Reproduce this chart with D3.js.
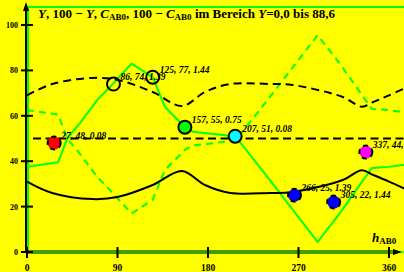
<!DOCTYPE html>
<html>
<head>
<meta charset="utf-8">
<script src="https://cdn.jsdelivr.net/npm/d3@7"></script>
<style>
  html, body { margin: 0; padding: 0; background: #ffff00; }
  svg { display: block; }
  text { font-family: "Liberation Serif", "Times New Roman", serif; font-weight: bold; }
</style>
</head>
<body>
<script>
// chart values
const hueY = [0, 31, 40, 53, 70, 81, 104, 125, 137, 157, 165, 207, 234, 289, 311, 343, 360, 391];
const lumY = [37.5, 39.5, 50, 57, 67, 72, 83, 77, 64, 55, 53, 51, 36, 4.5, 17, 37, 37.5, 39.5];
const lumYInv = [62.5, 60.5, 50, 43, 33, 28, 17, 23, 36, 45, 47, 49, 64, 95.5, 83, 63, 62.5, 60.5];

const hueC = [0, 25, 65, 90, 125, 154, 177, 202, 242, 264, 314, 333, 344, 360, 385];
const chroma = [31, 26, 23.3, 24.2, 29.5, 35.7, 29.5, 26, 26, 26.4, 31.7, 36, 34, 31, 26];
const chromaInv = [69, 74, 76.7, 75.8, 70.5, 64.3, 70.5, 74, 74, 73.6, 68.3, 64, 66, 69, 74];

const refLevel = 50;

const pointHue = [27, 86, 125, 157, 207, 266, 305, 337];
const pointVal = [48, 74, 77, 55, 51, 25, 22, 44];
const pointC = ['0.08', '1.39', '1.44', '0.75', '0.08', '1.39', '1.44', '0.75'];
const pointKind = ['red', 'open', 'open', 'green', 'cyan', 'blue', 'blue', 'magenta'];

const xTicks = [0, 90, 180, 270, 360];
const yTicks = [0, 20, 40, 60, 80, 100];

const width = 404, height = 272;
const green = '#00ff00';

const svg = d3.select('body').append('svg')
  .attr('width', width).attr('height', height);

svg.append('rect').attr('width', width).attr('height', height).attr('fill', '#ffff00');

const x = d3.scaleLinear().domain([0, 360]).range([27, 389]);
const y = d3.scaleLinear().domain([0, 100]).range([252, 25]);

const kindColor = d3.scaleOrdinal()
  .domain(['red', 'open', 'green', 'cyan', 'blue', 'magenta'])
  .range(['#ff0000', 'none', '#00ff00', '#00ffff', '#0000ff', '#ff00ff']);

// green frame
svg.append('path')
  .attr('d', `M${width},7 H28 V252`)
  .attr('fill', 'none').attr('stroke', green).attr('stroke-width', 2);

// axes
svg.append('line').attr('x1', 26).attr('x2', 26).attr('y1', 253).attr('y2', 8)
  .attr('stroke', '#000').attr('stroke-width', 2);
svg.append('path').attr('d', 'M26,2 L23,11 L29,11 Z').attr('fill', '#000');

svg.append('line').attr('x1', 26).attr('x2', 396).attr('y1', y(0)).attr('y2', y(0))
  .attr('stroke', '#000').attr('stroke-width', 3);
svg.append('line').attr('x1', 26).attr('x2', width).attr('y1', y(0)).attr('y2', y(0))
  .attr('stroke', green).attr('stroke-width', 1.5);
svg.append('path').attr('d', `M402,${y(0)} L393,${y(0) - 3} L393,${y(0) + 3} Z`).attr('fill', '#000');

svg.selectAll('.xt').data(xTicks).enter().append('line')
  .attr('x1', d => x(d)).attr('x2', d => x(d))
  .attr('y1', 247).attr('y2', 258)
  .attr('stroke', '#000').attr('stroke-width', 2);
svg.selectAll('.xl').data(xTicks).enter().append('text')
  .attr('x', d => x(d)).attr('y', 271)
  .attr('text-anchor', 'middle').style('font-size', '9.5px')
  .text(d => d);

svg.selectAll('.yt').data(yTicks).enter().append('line')
  .attr('x1', 21).attr('x2', 33)
  .attr('y1', d => y(d)).attr('y2', d => y(d))
  .attr('stroke', '#000').attr('stroke-width', 2);
svg.selectAll('.yl').data(yTicks).enter().append('text')
  .attr('x', 18).attr('y', d => y(d) + 3)
  .attr('text-anchor', 'end').style('font-size', '8px')
  .text(d => d);

// curves
svg.append('clipPath').attr('id', 'plot')
  .append('rect').attr('x', 27).attr('y', 0).attr('width', width - 27).attr('height', 252);

const g = svg.append('g').attr('clip-path', 'url(#plot)');

const linY = d3.line().x((d, i) => x(hueY[i])).y(d => y(d));
const smoothC = d3.line().x((d, i) => x(hueC[i])).y(d => y(d)).curve(d3.curveCatmullRom);

g.append('path').attr('d', linY(lumYInv))
  .attr('fill', 'none').attr('stroke', green).attr('stroke-width', 2)
  .attr('stroke-dasharray', '7,5');
g.append('path').attr('d', linY(lumY))
  .attr('fill', 'none').attr('stroke', green).attr('stroke-width', 2);

g.append('path').attr('d', smoothC(chromaInv))
  .attr('fill', 'none').attr('stroke', '#000').attr('stroke-width', 2)
  .attr('stroke-dasharray', '8,5');
g.append('path').attr('d', smoothC(chroma))
  .attr('fill', 'none').attr('stroke', '#000').attr('stroke-width', 2);

g.append('line')
  .attr('x1', x(6)).attr('x2', width)
  .attr('y1', y(refLevel)).attr('y2', y(refLevel))
  .attr('stroke', '#000').attr('stroke-width', 2)
  .attr('stroke-dasharray', '8,4.5');

// sample points
const pts = pointHue.map((h, i) => ({ h, v: pointVal[i], c: pointC[i], kind: pointKind[i] }));
const solidOutline = k => k === 'open' || k === 'green' || k === 'cyan';

svg.selectAll('.pt').data(pts).enter().append('circle')
  .attr('cx', d => x(d.h)).attr('cy', d => y(d.v)).attr('r', 6.5)
  .attr('fill', d => kindColor(d.kind))
  .attr('stroke', '#000').attr('stroke-width', 2)
  .attr('stroke-dasharray', d => solidOutline(d.kind) ? null : '5,4');

svg.selectAll('.pl').data(pts).enter().append('text')
  .attr('x', d => x(d.h) + 7).attr('y', d => y(d.v) - 4)
  .style('font-size', '9.5px').style('font-style', 'italic')
  .text(d => `${d.h}, ${d.v}, ${d.c}`);

// title
const title = svg.append('text').attr('x', 38).attr('y', 18).style('font-size', '13px');
const sub = (t, s) => t.append('tspan').attr('baseline-shift', '-25%').style('font-size', '9px').text(s);
title.append('tspan').style('font-style', 'italic').text('Y');
title.append('tspan').text(', 100 \u2212 ');
title.append('tspan').style('font-style', 'italic').text('Y');
title.append('tspan').text(', ');
title.append('tspan').style('font-style', 'italic').text('C');
sub(title, 'AB0');
title.append('tspan').text(', 100 \u2212 ');
title.append('tspan').style('font-style', 'italic').text('C');
sub(title, 'AB0');
title.append('tspan').text(' im Bereich ');
title.append('tspan').style('font-style', 'italic').text('Y');
title.append('tspan').text('=0,0 bis 88,6');

// x axis name
const xName = svg.append('text').attr('x', 372).attr('y', 242).style('font-size', '13px');
xName.append('tspan').style('font-style', 'italic').text('h');
xName.append('tspan').attr('baseline-shift', '-25%').style('font-size', '9px').text('AB0');
</script>
</body>
</html>
